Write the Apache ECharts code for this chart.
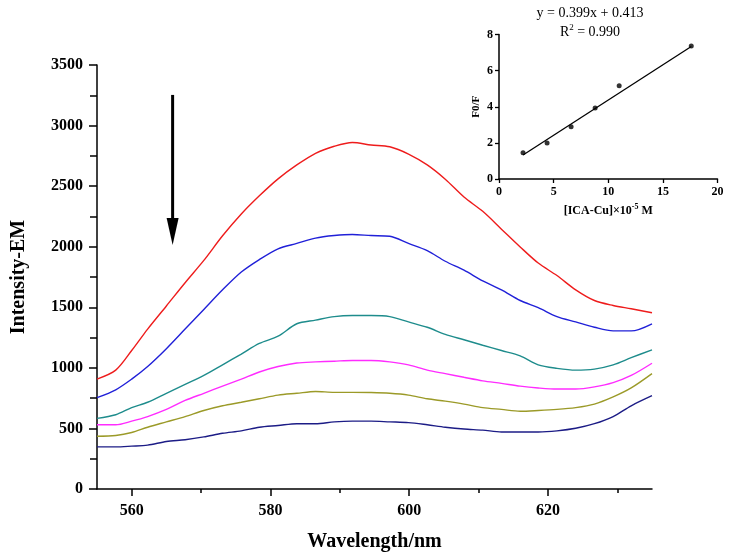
<!DOCTYPE html>
<html>
<head>
<meta charset="utf-8">
<script src="https://cdn.jsdelivr.net/npm/echarts@6/dist/echarts.min.js"></script>
<style>
html,body{margin:0;padding:0;background:#fff;}
#main{width:729px;height:560px;}
</style>
</head>
<body>
<div id="main"></div>
<script>
// ---- main spectra data ----
const wavelengths = [555, 557.7, 560, 562.3, 565, 567.7, 570.4, 573.1, 575.8, 578.4, 581.1, 583.8, 586.5, 589.2, 591.8, 594.5, 597.2, 599.9, 602.6, 605.2, 607.9, 610.6, 613.3, 616, 618.6, 621.3, 624, 626.7, 629.4, 632, 635];
const redSeries     = [907, 981, 1143, 1320, 1511, 1703, 1887, 2090, 2270, 2420, 2560, 2675, 2771, 2829, 2860, 2840, 2825, 2765, 2675, 2557, 2410, 2292, 2145, 1998, 1865, 1762, 1644, 1556, 1515, 1488, 1455];
const blueSeries    = [754, 819, 907, 1011, 1158, 1320, 1482, 1644, 1791, 1894, 1983, 2027, 2071, 2092, 2101, 2092, 2086, 2027, 1968, 1880, 1806, 1718, 1644, 1556, 1497, 1423, 1379, 1335, 1305, 1305, 1364];
const tealSeries    = [583, 613, 672, 716, 790, 863, 937, 1025, 1114, 1202, 1261, 1364, 1394, 1423, 1432, 1432, 1423, 1379, 1335, 1276, 1232, 1187, 1143, 1099, 1025, 996, 981, 990, 1025, 1084, 1149];
const magentaSeries = [530, 530, 560, 598, 657, 731, 790, 849, 907, 966, 1011, 1040, 1049, 1055, 1061, 1061, 1049, 1025, 981, 952, 922, 893, 872, 849, 834, 825, 825, 843, 878, 937, 1038];
const oliveSeries   = [436, 442, 466, 510, 554, 598, 648, 687, 716, 745, 775, 790, 805, 798, 798, 796, 790, 775, 745, 725, 701, 672, 657, 642, 648, 657, 672, 701, 760, 834, 952];
const navySeries    = [348, 348, 354, 362, 392, 407, 430, 460, 480, 510, 524, 539, 539, 554, 560, 560, 554, 548, 530, 510, 495, 486, 471, 471, 471, 480, 501, 539, 598, 687, 770];

const xLabelValues = [560, 580, 600, 620];
const xMinorTicks = [570, 590, 610, 630];

// arrow annotation: [wavelength, startIntensity, endIntensity]
const arrowData = [[565.9, 3253, 2015]];

// ---- inset data ----
const insetX = [2.2, 4.4, 6.6, 8.8, 11.0, 17.6];
const insetY = [1.46, 2.0, 2.89, 3.93, 5.16, 7.36];
const fitX = [2.2, 17.6];
const fitY = [1.33, 7.34];
const fitEquation = 'y = 0.399x + 0.413';
const fitR2 = '0.990';

const FONT = '"Liberation Serif", "Times New Roman", serif';
const plain = v => String(v);

function pairs(xs, ys) { return xs.map((x, i) => [x, ys[i]]); }

const spectra = [
  { data: redSeries, color: '#ee1c1c' },
  { data: blueSeries, color: '#2020d8' },
  { data: tealSeries, color: '#1e8c8c' },
  { data: magentaSeries, color: '#ff2cff' },
  { data: oliveSeries, color: '#9b9a28' },
  { data: navySeries, color: '#1c1c86' }
];

const chart = echarts.init(document.getElementById('main'));

const series = spectra.map(s => ({
  type: 'line',
  xAxisIndex: 0, yAxisIndex: 0,
  data: pairs(wavelengths, s.data),
  showSymbol: false,
  smooth: 0.3,
  lineStyle: { color: s.color, width: 1.4 },
  silent: true
}));

series.push({
  type: 'custom',
  xAxisIndex: 0, yAxisIndex: 0,
  data: arrowData,
  silent: true,
  renderItem: function (params, api) {
    const top = api.coord([api.value(0), api.value(1)]);
    const tip = api.coord([api.value(0), api.value(2)]);
    const headLen = 27, headW = 6;
    return {
      type: 'group',
      children: [
        { type: 'line', shape: { x1: top[0], y1: top[1], x2: tip[0], y2: tip[1] - headLen + 2 }, style: { stroke: '#000', lineWidth: 3 } },
        { type: 'polygon', shape: { points: [[tip[0] - headW, tip[1] - headLen], [tip[0] + headW, tip[1] - headLen], [tip[0], tip[1]]] }, style: { fill: '#000' } }
      ]
    };
  }
});

series.push({
  type: 'line',
  xAxisIndex: 2, yAxisIndex: 1,
  data: pairs(fitX, fitY),
  showSymbol: false,
  lineStyle: { color: '#000', width: 1.3 },
  silent: true
});
series.push({
  type: 'scatter',
  xAxisIndex: 2, yAxisIndex: 1,
  data: pairs(insetX, insetY),
  symbolSize: 5,
  itemStyle: { color: '#000' },
  silent: true
});

const option = {
  backgroundColor: '#fff',
  animation: false,
  grid: [
    { left: 97, right: 77, top: 65, bottom: 71 },
    { left: 499, right: 11.5, top: 34.5, bottom: 381 }
  ],
  xAxis: [
    {
      type: 'value', gridIndex: 0, min: 555, max: 635,
      position: 'bottom',
      name: 'Wavelength/nm', nameLocation: 'middle', nameGap: 43,
      nameTextStyle: { fontFamily: FONT, fontWeight: 'bold', fontSize: 20, color: '#000' },
      axisLine: { show: true, lineStyle: { color: '#000', width: 1.5 } },
      axisTick: { show: true, length: 7, customValues: xLabelValues, lineStyle: { color: '#000', width: 1.5 } },
      axisLabel: { customValues: xLabelValues, formatter: plain, margin: 14, fontFamily: FONT, fontWeight: 'bold', fontSize: 16, color: '#000' },
      splitLine: { show: false }
    },
    {
      type: 'value', gridIndex: 0, min: 555, max: 635,
      position: 'bottom',
      axisLine: { show: false },
      axisTick: { show: true, length: 4, customValues: xMinorTicks, lineStyle: { color: '#000', width: 1.5 } },
      axisLabel: { show: false },
      splitLine: { show: false }
    },
    {
      type: 'value', gridIndex: 1, min: 0, max: 20, interval: 5,
      name: '[ICA-Cu]×10{sup|-5} M', nameLocation: 'middle', nameGap: 24,
      nameTextStyle: {
        fontFamily: FONT, fontWeight: 'bold', fontSize: 12, color: '#000',
        rich: { sup: { fontFamily: FONT, fontWeight: 'bold', fontSize: 8, verticalAlign: 'top', padding: [0, 0, 7, 0] } }
      },
      axisLine: { show: true, lineStyle: { color: '#000', width: 1.5 } },
      axisTick: { show: true, length: 4, lineStyle: { color: '#000', width: 1.3 } },
      axisLabel: { formatter: plain, margin: 7, fontFamily: FONT, fontWeight: 'bold', fontSize: 12, color: '#000' },
      splitLine: { show: false }
    }
  ],
  yAxis: [
    {
      type: 'value', gridIndex: 0, min: 0, max: 3500, interval: 500,
      name: 'Intensity-EM', nameLocation: 'middle', nameGap: 68,
      nameTextStyle: { fontFamily: FONT, fontWeight: 'bold', fontSize: 20, color: '#000' },
      axisLine: { show: true, lineStyle: { color: '#000', width: 1.5 } },
      axisTick: { show: true, length: 8, lineStyle: { color: '#000', width: 1.5 } },
      minorTick: { show: true, splitNumber: 2, length: 7, lineStyle: { color: '#000', width: 1.5 } },
      axisLabel: { formatter: plain, margin: 14, fontFamily: FONT, fontWeight: 'bold', fontSize: 16, color: '#000' },
      splitLine: { show: false }
    },
    {
      type: 'value', gridIndex: 1, min: 0, max: 8, interval: 2,
      name: 'F0/F', nameLocation: 'middle', nameGap: 17,
      nameTextStyle: { fontFamily: FONT, fontWeight: 'bold', fontSize: 11, color: '#000' },
      axisLine: { show: true, lineStyle: { color: '#000', width: 1.5 } },
      axisTick: { show: true, length: 4, lineStyle: { color: '#000', width: 1.3 } },
      axisLabel: { formatter: plain, margin: 6, fontFamily: FONT, fontWeight: 'bold', fontSize: 12, color: '#000' },
      splitLine: { show: false }
    }
  ],
  graphic: [
    {
      type: 'text', x: 590, y: 13,
      style: { text: fitEquation, textAlign: 'center', textVerticalAlign: 'middle', fontFamily: FONT, fontSize: 14, fill: '#000' }
    },
    {
      type: 'text', x: 590, y: 32,
      style: {
        text: 'R{sup|2} = ' + fitR2, textAlign: 'center', textVerticalAlign: 'middle', fontFamily: FONT, fontSize: 14, fill: '#000',
        rich: { sup: { fontFamily: FONT, fontSize: 9, verticalAlign: 'top', padding: [0, 0, 8, 0] } }
      }
    }
  ],
  series: series
};

chart.setOption(option);
</script>
</body>
</html>
